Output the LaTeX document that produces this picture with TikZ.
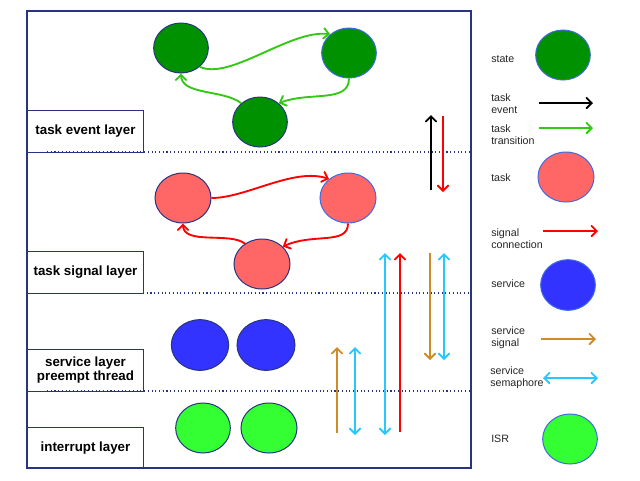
\documentclass[tikz,border=0pt]{standalone}
\usepackage{fontspec}
\setmainfont{Liberation Sans}
\usepackage{xcolor}
\usepackage{tikz}
\usetikzlibrary{arrows}
\usetikzlibrary{shapes.geometric}

\definecolor{navy}{RGB}{40,52,130}
\definecolor{rimblue}{RGB}{65,105,225}
\definecolor{stategreen}{RGB}{0,145,0}
\definecolor{trangreen}{RGB}{50,200,20}
\definecolor{taskred}{RGB}{255,102,102}
\definecolor{servblue}{RGB}{51,51,255}
\definecolor{isrgreen}{RGB}{51,255,51}
\definecolor{sigorange}{RGB}{205,140,40}
\definecolor{semcyan}{RGB}{40,200,255}

\begin{document}
\begin{tikzpicture}[x=0.75pt,y=-0.75pt,>=angle 90,
    blob/.style={ellipse,draw=navy,line width=0.75pt,inner sep=0pt,
      minimum width=41pt,minimum height=37.5pt},
    layerbox/.style={draw=navy,line width=0.75pt,anchor=north west,
      minimum width=87pt,minimum height=31.5pt,align=center,
      font=\bfseries\fontsize{10}{10.5}\selectfont},
    legtext/.style={anchor=west,align=left,inner sep=0pt,text=black!85,
      font=\fontsize{8}{9}\selectfont},
    link/.style={line width=1.4pt}]
    \useasboundingbox[fill=white] (0,0) rectangle (640,480);
    \draw[navy,line width=0.8pt] (27,11) rectangle (471,468);
    \node[layerbox] (evlayer) at (27,110) {task event layer};
    \node[layerbox] (siglayer) at (27,251) {task signal layer};
    \node[layerbox] (servlayer) at (27,349) {service layer\\preempt thread};
    \node[layerbox,minimum height=30.75pt] (irqlayer) at (27,427) {interrupt layer};
    \draw[navy,dotted,line width=0.8pt] (47,152) -- (471,152);
    \draw[navy,dotted,line width=0.8pt] (143,293) -- (471,293);
    \draw[navy,dotted,line width=0.8pt] (47,391) -- (471,391);
    %
    \node[blob,fill=stategreen] (st1) at (181,48) {};
    \node[blob,fill=stategreen,draw=rimblue] (st2) at (349,53) {};
    \node[blob,fill=stategreen] (st3) at (260,122) {};
    \draw[link,trangreen,->] (st1.-45) .. controls +(30,14) and +(-40,-5) .. (st2.135);
    \draw[link,trangreen,->] (st2.south) .. controls +(0,25) and +(30,-12) .. (st3.45);
    \draw[link,trangreen,->] (st3.135) .. controls +(-18,-14) and +(0,22) .. (st1.south);
    %
    \node[blob,fill=taskred,minimum width=42pt] (tk1) at (183,198) {};
    \node[blob,fill=taskred,draw=rimblue,minimum width=42pt] (tk2) at (348,198) {};
    \node[blob,fill=taskred,minimum width=42pt] (tk3) at (262,264) {};
    \draw[link,red,->] (tk1.east) .. controls +(35,0) and +(-35,-12) .. (tk2.135);
    \draw[link,red,->] (tk2.south) .. controls +(0,22) and +(30,-14) .. (tk3.40);
    \draw[link,red,->] (tk3.130) .. controls +(-15,-12) and +(0,22) .. (tk1.south);
    %
    \node[blob,fill=servblue,minimum width=43pt,minimum height=38pt] (sv1) at (200,345) {};
    \node[blob,fill=servblue,minimum width=43.5pt,minimum height=38pt] (sv2) at (266,345) {};
    \node[blob,fill=isrgreen] (isr1) at (203,428) {};
    \node[blob,fill=isrgreen,minimum width=42pt] (isr2) at (269,428) {};
    %
    \coordinate (ev0) at (431,190); \coordinate (ev1) at (431,115);
    \coordinate (cn0) at (443,116); \coordinate (cn1) at (443,192);
    \coordinate (sm0) at (385,253); \coordinate (sm1) at (385,435);
    \coordinate (cu0) at (400,432); \coordinate (cu1) at (400,253);
    \coordinate (sd0) at (430,253); \coordinate (sd1) at (430,360);
    \coordinate (sh0) at (444,253); \coordinate (sh1) at (444,360);
    \coordinate (su0) at (337,433); \coordinate (su1) at (337,347);
    \coordinate (sl0) at (355,347); \coordinate (sl1) at (355,435);
    \draw[link,black,->] (ev0) -- (ev1);
    \draw[link,red,->] (cn0) -- (cn1);
    \draw[link,semcyan,<->] (sm0) -- (sm1);
    \draw[link,red,->] (cu0) -- (cu1);
    \draw[link,sigorange,->] (sd0) -- (sd1);
    \draw[link,semcyan,<->] (sh0) -- (sh1);
    \draw[link,sigorange,->] (su0) -- (su1);
    \draw[link,semcyan,<->] (sl0) -- (sl1);
    %
    \node[legtext] (lgstate) at (491,59) {state};
    \node[blob,fill=stategreen,draw=rimblue] (lgstatec) at (563,55) {};
    \node[legtext] (lgevent) at (491,104) {task\\event};
    \coordinate (lgev0) at (539,103); \coordinate (lgev1) at (593,103);
    \draw[link,black,->] (lgev0) -- (lgev1);
    \node[legtext] (lgtrans) at (491,134.5) {task\\transition};
    \coordinate (lgtr0) at (539,128); \coordinate (lgtr1) at (593,128);
    \draw[link,trangreen,->] (lgtr0) -- (lgtr1);
    \node[legtext] (lgtask) at (491,178) {task};
    \node[blob,fill=taskred,draw=rimblue,minimum width=42pt] (lgtaskc) at (566,177) {};
    \node[legtext] (lgsig) at (491,239) {signal\\connection};
    \coordinate (lgsg0) at (543,231); \coordinate (lgsg1) at (598,231);
    \draw[link,red,->] (lgsg0) -- (lgsg1);
    \node[legtext] (lgserv) at (491,284) {service};
    \node[blob,fill=servblue,draw=rimblue,minimum height=38pt] (lgservc) at (568,285) {};
    \node[legtext] (lgssig) at (491,337.5) {service\\signal};
    \coordinate (lgss0) at (541,339); \coordinate (lgss1) at (596,339);
    \draw[link,sigorange,->] (lgss0) -- (lgss1);
    \node[legtext] (lgsem) at (490,378) {service\\semaphore};
    \coordinate (lgsm0) at (543,378); \coordinate (lgsm1) at (598,378);
    \draw[link,semcyan,<->] (lgsm0) -- (lgsm1);
    \node[legtext] (lgisr) at (491,439) {ISR};
    \node[blob,fill=isrgreen,draw=rimblue] (lgisrc) at (570,439) {};
  \end{tikzpicture}
\end{document}
